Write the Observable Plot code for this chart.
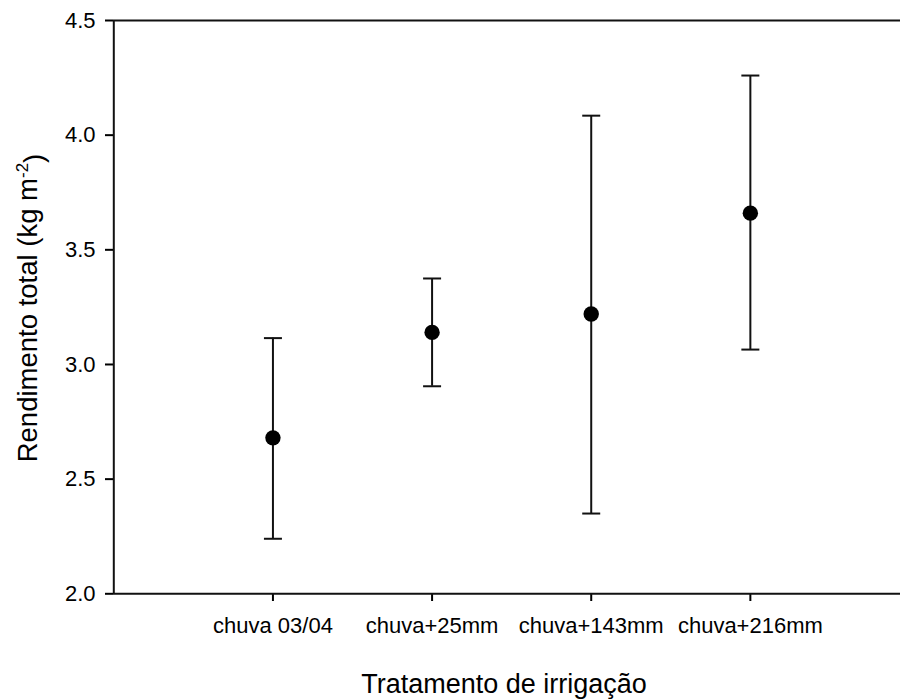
<!DOCTYPE html>
<html>
<head>
<meta charset="utf-8">
<script src="https://cdn.jsdelivr.net/npm/d3@7"></script>
<script src="https://cdn.jsdelivr.net/npm/@observablehq/plot@0.6"></script>
<style>
  html, body { margin: 0; padding: 0; background: #fff; }
  #chart svg { display: block; }
</style>
</head>
<body>
<div id="chart"></div>
<script>
// Treatments, mean total yield and error-bar limits (kg m-2)
const categories = ["chuva 03/04", "chuva+25mm", "chuva+143mm", "chuva+216mm"];
const means = [2.68, 3.14, 3.22, 3.66];
const lower = [2.24, 2.905, 2.35, 3.065];
const upper = [3.115, 3.375, 4.085, 4.26];
const yTicks = [2.0, 2.5, 3.0, 3.5, 4.0, 4.5];

const rows = categories.map((c, i) => ({
  pos: i + 1, name: c, mean: means[i], lo: lower[i], hi: upper[i]
}));

// horizontal line symbol for the error-bar caps
const capSymbol = {
  draw(context) {
    context.moveTo(-9, 0);
    context.lineTo(9, 0);
  }
};

const font = "'Liberation Sans', Arial, Helvetica, sans-serif";

const chart = Plot.plot({
  width: 900,
  height: 699,
  marginLeft: 113,
  marginRight: 0,
  marginTop: 20,
  marginBottom: 106,
  style: { fontFamily: font, fontSize: "22px", background: "white", color: "black", overflow: "hidden" },
  x: { domain: [0, 5], range: [113.3, 909] },
  y: { domain: [2, 4.5], range: [593.3, 20] },
  marks: [
    Plot.axisY({ ticks: yTicks, tickFormat: d3.format(".1f"), tickSize: 8, tickPadding: 10, strokeWidth: 2, label: null, fontSize: 22 }),
    Plot.axisX({ ticks: [1, 2, 3, 4], tickFormat: i => categories[i - 1], tickSize: 8, tickPadding: 16, strokeWidth: 2, label: null, fontSize: 22 }),
    // frame: left, top and bottom lines
    Plot.ruleX([0], { stroke: "#111", strokeWidth: 2 }),
    Plot.ruleY([2, 4.5], { stroke: "#111", strokeWidth: 2 }),
    // error bars
    Plot.ruleX(rows, { x: "pos", y1: "lo", y2: "hi", stroke: "#111", strokeWidth: 2 }),
    Plot.dot(rows, { x: "pos", y: "lo", symbol: capSymbol, stroke: "#111", strokeWidth: 2, fill: "none" }),
    Plot.dot(rows, { x: "pos", y: "hi", symbol: capSymbol, stroke: "#111", strokeWidth: 2, fill: "none" }),
    // means
    Plot.dot(rows, { x: "pos", y: "mean", r: 7.7, fill: "black", stroke: "none" })
  ]
});

const svg = d3.select(chart);

// axis titles
svg.append("text")
  .attr("x", 504)
  .attr("y", 693)
  .attr("text-anchor", "middle")
  .style("font-family", font)
  .style("font-size", "27px")
  .attr("fill", "black")
  .text("Tratamento de irrigação");

const yTitle = svg.append("text")
  .attr("transform", "translate(37,308) rotate(-90)")
  .attr("text-anchor", "middle")
  .style("font-family", font)
  .style("font-size", "27.5px")
  .attr("fill", "black");
yTitle.append("tspan").text("Rendimento total (kg m");
yTitle.append("tspan").attr("dy", "-0.55em").style("font-size", "17px").text("-2");
yTitle.append("tspan").attr("dy", "0.55em").text(")");

document.getElementById("chart").appendChild(chart);
</script>
</body>
</html>
